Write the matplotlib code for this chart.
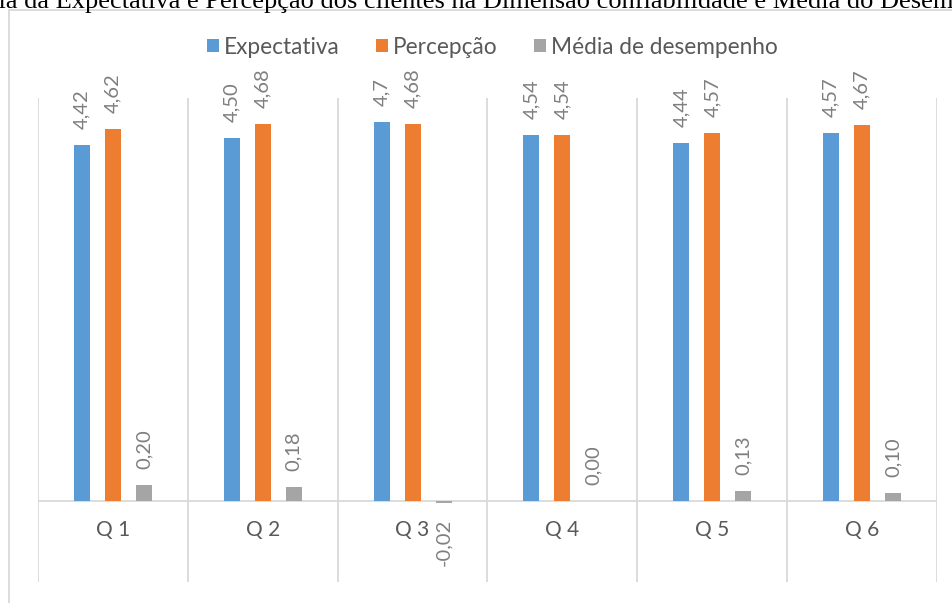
import matplotlib
matplotlib.use("Agg")
import matplotlib.pyplot as plt
from matplotlib.patches import Rectangle
import numpy as np

categories = ["Q1", "Q2", "Q3", "Q4", "Q5", "Q6"]
expectativa = [4.42, 4.50, 4.70, 4.54, 4.44, 4.57]
percepcao = [4.62, 4.68, 4.68, 4.54, 4.57, 4.67]
media_desempenho = [0.20, 0.18, -0.02, 0.00, 0.13, 0.10]
expectativa_labels = ["4,42", "4,50", "4,7", "4,54", "4,44", "4,57"]
percepcao_labels = ["4,62", "4,68", "4,68", "4,54", "4,57", "4,67"]
media_labels = ["0,20", "0,18", "-0,02", "0,00", "0,13", "0,10"]
series_names = ["Expectativa", "Percepção", "Média de desempenho"]
colors = ["#5b9bd5", "#ed7d31", "#a5a5a5"]
title = "Média da Expectativa e Percepção dos clientes na Dimensão confiabilidade e Média do Desempenho"

W, H = 952, 603
fig = plt.figure(figsize=(W / 100, H / 100), dpi=100)
fig.patch.set_facecolor("white")

FONT = ["Lato", "DejaVu Sans"]
grid_c = "#d9d9d9"
text_c = "#595959"
label_c = "#7f7f7f"

# chart-area border
fig.patches.append(Rectangle((8.5 / W, -0.1), 1.2, 1 - 10 / H + 0.1,
                             transform=fig.transFigure, fill=False,
                             edgecolor=grid_c, lw=1.3))

# title (partially cut off at the top of the picture)
renderer = fig.canvas.get_renderer()
visible = "ia da Expectativa e Percepção dos clientes na Dimensão confiabilidade e Média do Desem"
probe = fig.text(0, 0, visible, fontsize=18, family="Liberation Serif")
wv = probe.get_window_extent(renderer).width
probe.remove()
fs = 18 * 955 / wv
probe = fig.text(0, 0, "Méd", fontsize=fs, family="Liberation Serif")
wm = probe.get_window_extent(renderer).width
probe.remove()
fig.text(-wm / W - 1 / W, 1 - 8 / H, title, fontsize=fs, family="Liberation Serif",
         color="black", ha="left", va="baseline")

# plot axes
left, right, bottom, top = 38, 937, 582, 98
ax = fig.add_axes([left / W, 1 - bottom / H, (right - left) / W, (bottom - top) / H])
ax.set_xlim(0, len(categories))
ax.set_ylim(-1, 5)
for s in ax.spines.values():
    s.set_visible(False)
ax.set_xticks([])
ax.set_yticks([])

for k in range(len(categories) + 1):
    ax.axvline(k, color=grid_c, lw=1.3, zorder=0)
ax.axhline(0, color=grid_c, lw=1.3, zorder=1)

x = np.arange(len(categories)) + 0.5
bw = 16 / 150
step = 31 / 150
all_series = [expectativa, percepcao, media_desempenho]
all_labels = [expectativa_labels, percepcao_labels, media_labels]
for i, (vals, labs, c, name) in enumerate(zip(all_series, all_labels, colors, series_names)):
    xs = x + (i - 1) * step
    ax.bar(xs, vals, width=bw, color=c, label=name, zorder=2)
    for xi, v, lab in zip(xs, vals, labs):
        if v < 0:
            ax.annotate(lab, (xi, v), xytext=(0, -11.5), textcoords="offset points",
                        rotation=90, ha="center", va="top", fontsize=14.5,
                        color=label_c, family=FONT)
        else:
            ax.annotate(lab, (xi, v), xytext=(0, 11.5), textcoords="offset points",
                        rotation=90, ha="center", va="bottom", fontsize=14.5,
                        color=label_c, family=FONT)

for xi, cat in zip(x, categories):
    ax.text(xi, -0.35, cat[0] + " " + cat[1:], ha="center", va="center",
            fontsize=15, color=text_c, family=FONT)

leg = fig.legend(loc="center", bbox_to_anchor=(492 / W, 1 - 47 / H), ncol=3, frameon=False,
                 prop={"family": FONT, "size": 16.3}, labelcolor=text_c,
                 handlelength=0.55, handleheight=0.55, handletextpad=0.2,
                 columnspacing=1.6)

fig.savefig("out.png", dpi=100, facecolor="white")
